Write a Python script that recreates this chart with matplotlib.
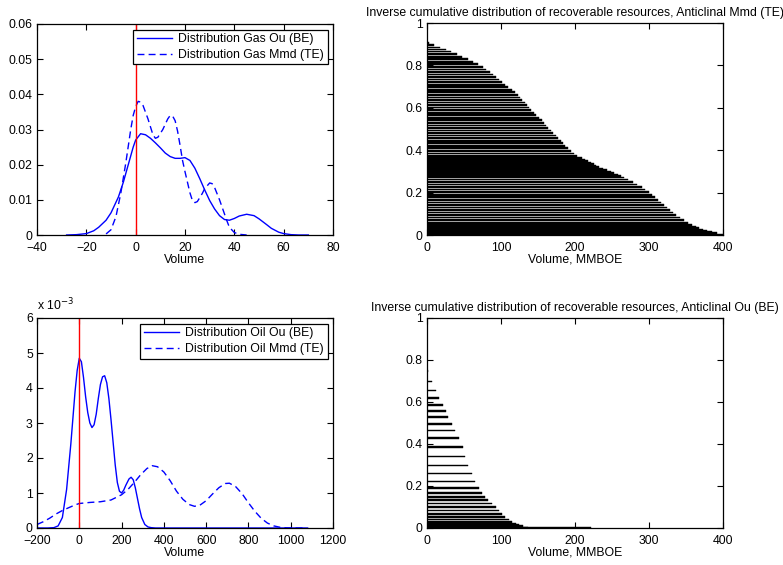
import matplotlib
matplotlib.use('Agg')
import matplotlib.pyplot as plt

plt.rcParams['font.family'] = ['Liberation Sans', 'DejaVu Sans']
plt.rcParams['font.size'] = 8.8

# --- gas densities (top left) ---
gas_ou_x = [-28, -24, -20, -17, -15, -12, -10, -7, -5, -3, -1, 0, 2, 4, 6, 8, 10, 12, 14, 16, 18,
            20, 22, 24, 26, 28, 30, 32, 34, 36, 38, 40, 42, 45, 48, 50, 53, 55, 58, 60, 63, 66, 70]
gas_ou_y = [0.0, 0.0001, 0.0004, 0.0012, 0.0022, 0.0042, 0.0063, 0.0108, 0.0150, 0.0200, 0.0250,
            0.0270, 0.0288, 0.0285, 0.0275, 0.0262, 0.0248, 0.0233, 0.0223, 0.0218, 0.0218,
            0.0220, 0.0212, 0.0190, 0.0160, 0.0128, 0.0098, 0.0074, 0.0055, 0.0044, 0.0042,
            0.0047, 0.0054, 0.0059, 0.0055, 0.0046, 0.0030, 0.0019, 0.0008, 0.0004, 0.0001, 0.0, 0.0]
gas_mmd_x = [-12, -10, -8, -6, -4, -2, -1, 0, 1, 2, 3, 5, 7, 8, 9, 11, 13, 14, 15, 16, 17, 18,
             19, 20, 21, 22, 23, 24, 25, 27, 28, 30, 31, 32, 34, 35, 37, 38, 40, 42, 45]
gas_mmd_y = [0.0003, 0.0015, 0.0052, 0.0120, 0.0205, 0.0300, 0.0340, 0.0365, 0.0380, 0.0378,
             0.0368, 0.0330, 0.0285, 0.0275, 0.0278, 0.0300, 0.0330, 0.0340, 0.0338, 0.0325,
             0.0295, 0.0255, 0.0212, 0.0180, 0.0150, 0.0120, 0.0098, 0.0092, 0.0095, 0.0118,
             0.0132, 0.0148, 0.0146, 0.0135, 0.0100, 0.0080, 0.0040, 0.0022, 0.0007, 0.0002, 0.0]

# --- oil densities (bottom left), in units of 1e-3 ---
oil_ou_x = [-200, -150, -120, -100, -80, -60, -40, -20, -10, 0, 10, 20, 30, 40, 50, 60, 70, 80,
            90, 100, 110, 120, 130, 140, 150, 160, 170, 180, 190, 200, 210, 220, 235, 245, 255,
            265, 275, 285, 295, 310, 325, 340, 360, 400, 600, 800, 1000, 1080]
oil_ou_y = [0.0, 0.0, 0.01, 0.06, 0.3, 1.1, 2.4, 3.9, 4.5, 4.85, 4.75, 4.3, 3.75, 3.3, 3.0, 2.87,
            2.95, 3.25, 3.7, 4.1, 4.32, 4.35, 4.15, 3.7, 3.1, 2.45, 1.8, 1.3, 1.05, 1.0, 1.08,
            1.22, 1.4, 1.45, 1.38, 1.15, 0.85, 0.55, 0.3, 0.1, 0.03, 0.01, 0.0, 0.0, 0.0, 0.0,
            0.0, 0.0]
oil_mmd_x = [-200, -170, -140, -110, -80, -50, -20, 0, 50, 100, 150, 200, 230, 260, 290, 320,
             345, 370, 400, 430, 460, 490, 520, 545, 570, 600, 630, 660, 690, 710, 740, 770, 800,
             830, 860, 890, 920, 950, 980, 1020, 1060]
oil_mmd_y = [0.1, 0.18, 0.28, 0.4, 0.5, 0.58, 0.66, 0.7, 0.73, 0.75, 0.8, 0.95, 1.1, 1.3, 1.52,
             1.7, 1.78, 1.75, 1.6, 1.35, 1.05, 0.82, 0.67, 0.62, 0.65, 0.78, 0.97, 1.15, 1.27,
             1.28, 1.18, 0.98, 0.72, 0.48, 0.28, 0.14, 0.06, 0.02, 0.005, 0.0, 0.0]

# --- inverse cumulative, Anticlinal Mmd (TE) ---
mmd_prob = [0.905, 0.895, 0.885, 0.875, 0.865, 0.853, 0.841, 0.829, 0.817, 0.805, 0.793, 0.781,
            0.769, 0.757, 0.745, 0.733, 0.721, 0.709, 0.697, 0.685, 0.673, 0.661, 0.649, 0.637,
            0.625, 0.613, 0.601, 0.589, 0.577, 0.565, 0.553, 0.541, 0.529, 0.517, 0.505, 0.493,
            0.481, 0.469, 0.457, 0.445, 0.433, 0.421, 0.409, 0.397, 0.385, 0.373, 0.362, 0.355,
            0.348, 0.341, 0.334, 0.327, 0.320, 0.313, 0.306, 0.299, 0.292, 0.285, 0.278, 0.271,
            0.262, 0.250, 0.238, 0.226, 0.214, 0.202, 0.190, 0.178, 0.166, 0.154, 0.142, 0.130,
            0.118, 0.106, 0.094, 0.082, 0.070, 0.058, 0.048, 0.040, 0.033, 0.026, 0.020, 0.014,
            0.008, 0.003]
mmd_volume = [3, 10, 18, 25, 32, 40, 47, 55, 62, 69, 75, 80, 85, 89, 93, 97, 101, 106, 110, 115,
              119, 123, 126, 129, 132, 135, 138, 141, 144, 147, 151, 155, 158, 161, 164, 167,
              170, 174, 177, 181, 184, 187, 190, 194, 198, 203, 209, 213, 217, 221, 225, 229,
              233, 238, 243, 248, 253, 258, 262, 266, 271, 278, 284, 290, 295, 300, 304, 308,
              312, 316, 320, 324, 328, 332, 337, 342, 347, 353, 358, 363, 368, 373, 379, 385,
              392, 400]

# --- inverse cumulative, Anticlinal Ou (BE) ---
ou_prob = [0.746, 0.698, 0.655, 0.619, 0.587, 0.556, 0.527, 0.495, 0.465, 0.429, 0.386, 0.341,
           0.298, 0.259, 0.222, 0.190, 0.167, 0.148, 0.132, 0.116, 0.100, 0.084, 0.068, 0.052,
           0.040, 0.029, 0.021, 0.014, 0.008, 0.003, 0.0008]
ou_volume = [2, 7, 12, 16, 21, 25, 29, 34, 38, 43, 48, 52, 56, 61, 65, 70, 74, 79, 83, 88, 93,
             97, 102, 106, 111, 115, 120, 124, 130, 136, 222]

gas_ticks = [-40, -20, 0, 20, 40, 60, 80]
gas_yticks = [0, 0.01, 0.02, 0.03, 0.04, 0.05, 0.06]
gas_ylabels = ['0', '0.01', '0.02', '0.03', '0.04', '0.05', '0.06']
oil_ticks = [-200, 0, 200, 400, 600, 800, 1000, 1200]
oil_yticks = [0, 1, 2, 3, 4, 5, 6]
prob_ticks = [0, 0.2, 0.4, 0.6, 0.8, 1]
prob_labels = ['0', '0.2', '0.4', '0.6', '0.8', '1']
vol_ticks = [0, 100, 200, 300, 400]

fig = plt.figure(figsize=(7.83, 5.65), dpi=100)
W, H = 783, 565


def box(x0, y0, x1, y1):
    return [x0 / W, 1 - y1 / H, (x1 - x0) / W, (y1 - y0) / H]


def matlab_style(ax):
    ax.tick_params(direction='in', top=True, right=True, length=4, width=0.8)
    ax.tick_params(axis='x', pad=5)
    ax.tick_params(axis='y', pad=3)
    for s in ax.spines.values():
        s.set_linewidth(0.9)


def add_legend(ax):
    leg = ax.legend(loc='upper right', handlelength=2.9, fancybox=False, edgecolor='black',
                    borderaxespad=0.45, labelspacing=0.3, borderpad=0.3, handletextpad=0.5,
                    framealpha=1)
    leg.get_frame().set_linewidth(0.9)


ax1 = fig.add_axes(box(37, 24, 333, 235))
ax1.plot(gas_ou_x, gas_ou_y, color='blue', lw=1, label='Distribution Gas Ou (BE)')
ax1.plot(gas_mmd_x, gas_mmd_y, color='blue', lw=1, ls=(0, (5, 3)), label='Distribution Gas Mmd (TE)')
ax1.axvline(0, color='red', lw=1)
ax1.set_xlim(-40, 80)
ax1.set_ylim(0, 0.06)
ax1.set_xticks(gas_ticks)
ax1.set_yticks(gas_yticks)
ax1.set_yticklabels(gas_ylabels)
ax1.set_xlabel('Volume', labelpad=0)
matlab_style(ax1)
add_legend(ax1)

ax3 = fig.add_axes(box(37, 318, 333, 528))
ax3.plot(oil_ou_x, oil_ou_y, color='blue', lw=1, label='Distribution Oil Ou (BE)')
ax3.plot(oil_mmd_x, oil_mmd_y, color='blue', lw=1, ls=(0, (5, 3)), label='Distribution Oil Mmd (TE)')
ax3.axvline(0, color='red', lw=1)
ax3.set_xlim(-200, 1200)
ax3.set_ylim(0, 6)
ax3.set_xticks(oil_ticks)
ax3.set_yticks(oil_yticks)
ax3.set_xlabel('Volume', labelpad=0)
ax3.text(0, 1.02, r'x 10$^{-3}$', transform=ax3.transAxes, ha='left', va='bottom')
matlab_style(ax3)
add_legend(ax3)

ax2 = fig.add_axes(box(427, 23, 723, 235))
ax2.barh(mmd_prob, mmd_volume, height=0.008, color='black', edgecolor='black', lw=0.3)
ax2.set_xlim(0, 400)
ax2.set_ylim(0, 1)
ax2.set_xticks(vol_ticks)
ax2.set_yticks(prob_ticks)
ax2.set_yticklabels(prob_labels)
ax2.set_xlabel('Volume, MMBOE', labelpad=0)
ax2.set_title('Inverse cumulative distribution of recoverable resources, Anticlinal Mmd (TE)',
              fontsize=8.8, pad=5)
matlab_style(ax2)

ax4 = fig.add_axes(box(427, 318, 723, 528))
ax4.barh(ou_prob, ou_volume, height=0.008, color='black', edgecolor='black', lw=0.3)
ax4.set_xlim(0, 400)
ax4.set_ylim(0, 1)
ax4.set_xticks(vol_ticks)
ax4.set_yticks(prob_ticks)
ax4.set_yticklabels(prob_labels)
ax4.set_xlabel('Volume, MMBOE', labelpad=0)
ax4.set_title('Inverse cumulative distribution of recoverable resources, Anticlinal Ou (BE)',
              fontsize=8.8, pad=5)
matlab_style(ax4)

fig.savefig('out.png', dpi=100)
